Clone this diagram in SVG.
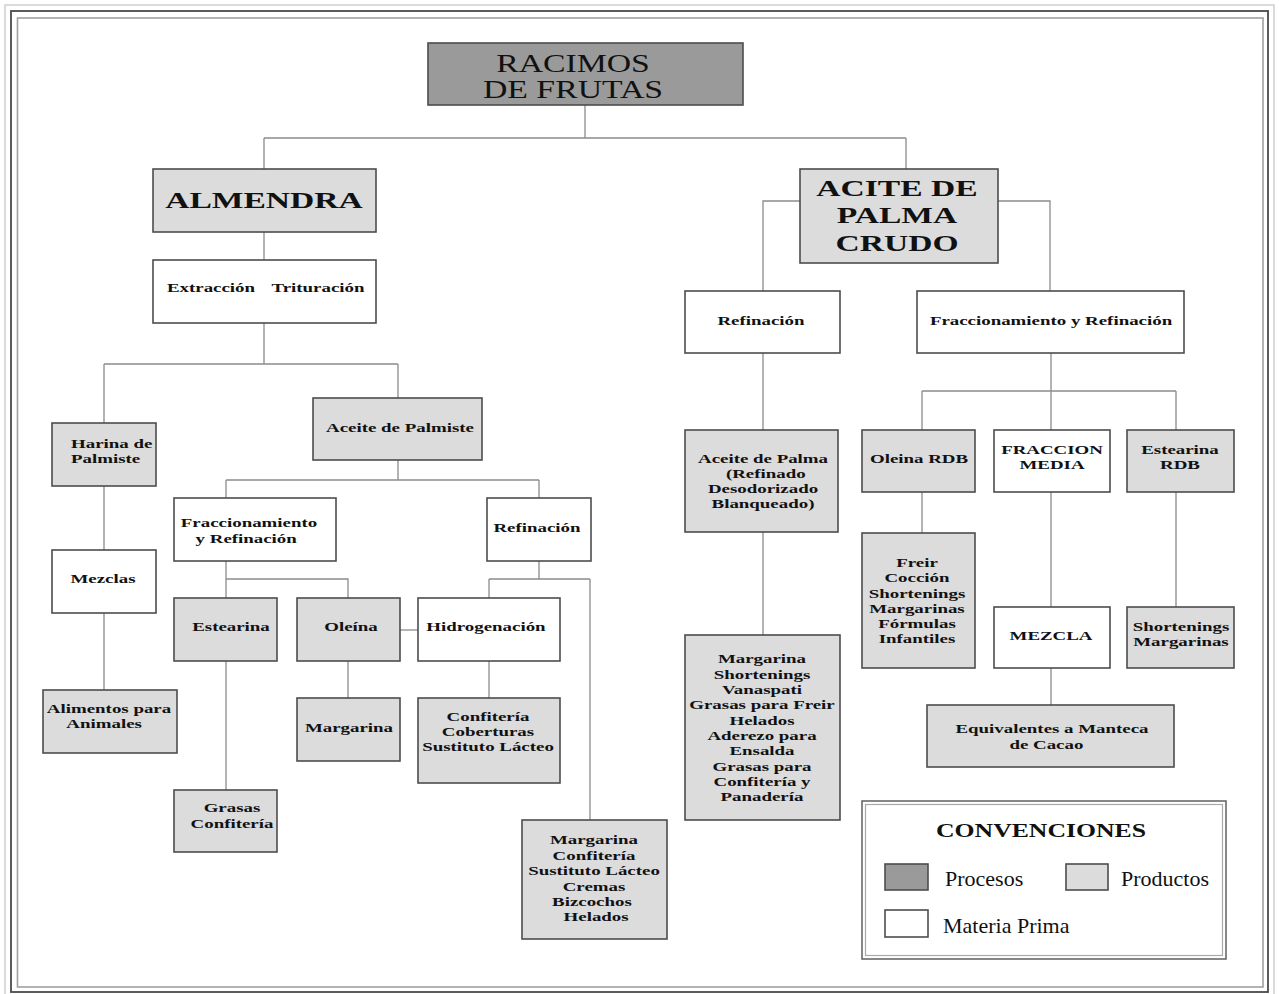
<svg xmlns="http://www.w3.org/2000/svg" width="1279" height="994" viewBox="0 0 1279 994">
  <style>
    .box { stroke: #4d4d4d; stroke-width: 1.6; }
    .mp { fill: #ffffff; }
    .pr { fill: #dcdcdc; }
    .pc { fill: #9a9a9a; }
    .t { font-family: "Liberation Serif", "Times New Roman", serif; font-weight: bold; font-size: 13.5px; fill: #111; text-anchor: middle; }
    .ts { text-anchor: start; }
    .big { font-size: 23px; }
    .title { font-weight: normal; font-size: 25px; }
    .lg { font-family: "Liberation Serif", "Times New Roman", serif; font-size: 22px; fill: #111; }
    .conn path { fill: none; stroke: #8c8c8c; stroke-width: 1.3; }
  </style>

  <!-- page frame -->
  <rect x="0" y="0" width="1279" height="994" fill="#ffffff"/>
  <rect x="5" y="5" width="1269" height="995" fill="none" stroke="#cfcfcf" stroke-width="1.5"/>
  <rect x="11" y="11" width="1257" height="981" fill="none" stroke="#4a4a4a" stroke-width="1.8"/>
  <rect x="17.5" y="18" width="1245.5" height="969" fill="none" stroke="#a0a0a0" stroke-width="1.6"/>

  <!-- connectors -->
  <g id="connectors" class="conn">
    <path d="M585,105 V138 M264,138 H906 M264,138 V169 M906,138 V169"/>
    <path d="M264,232 V260"/>
    <path d="M264,323 V364 M104,364 H398 M104,364 V423 M398,364 V398"/>
    <path d="M104,486 V550 M104,613 V690"/>
    <path d="M398,460 V480 M226,480 H539 M226,480 V498 M539,480 V498"/>
    <path d="M226,561 V579 H348 V598 M226,579 V598"/>
    <path d="M226,661 V790"/>
    <path d="M348,661 V698"/>
    <path d="M400,630 H418"/>
    <path d="M539,561 V579 M489,579 H590 M489,579 V598 M590,579 V820"/>
    <path d="M489,661 V698"/>
    <path d="M800,201 H763 V291 M998,201 H1050 V291"/>
    <path d="M763,353 V430 M763,532 V635"/>
    <path d="M1051,353 V391 M922,391 H1176 M922,391 V430 M1051,391 V430 M1176,391 V430"/>
    <path d="M922,492 V533 M1051,492 V607 M1176,492 V607 M1051,668 V705"/>
  </g>

  <!-- top level -->
  <g id="racimos">
    <rect class="box pc" x="428" y="43" width="315" height="62"/>
    <text class="t title" transform="matrix(1.35 0 0 1 573 0)"><tspan x="0" y="72">RACIMOS</tspan><tspan x="0" y="98">DE FRUTAS</tspan></text>
  </g>

  <!-- kernel branch -->
  <g id="almendra">
    <rect class="box pr" x="153" y="169" width="223" height="63"/>
    <text class="t big" transform="matrix(1.46 0 0 1 264 0)" y="208">ALMENDRA</text>
  </g>
  <g id="extraccion">
    <rect class="box mp" x="153" y="260" width="223" height="63"/>
    <text class="t" transform="matrix(1.4 0 0 1 211 0)" y="292">Extracción</text>
    <text class="t" transform="matrix(1.4 0 0 1 318 0)" y="292">Trituración</text>
  </g>
  <g id="harina">
    <rect class="box pr" x="52" y="423" width="104" height="63"/>
    <text class="t ts" transform="matrix(1.4 0 0 1 71 0)"><tspan x="0" y="448">Harina de</tspan><tspan x="0" y="463">Palmiste</tspan></text>
  </g>
  <g id="mezclas">
    <rect class="box mp" x="52" y="550" width="104" height="63"/>
    <text class="t" transform="matrix(1.4 0 0 1 103 0)" y="583">Mezclas</text>
  </g>
  <g id="alimentos">
    <rect class="box pr" x="43" y="690" width="134" height="63"/>
    <text class="t" transform="matrix(1.4 0 0 1 109 0)"><tspan x="0" y="713">Alimentos para</tspan><tspan x="-3.5" y="728">Animales</tspan></text>
  </g>
  <g id="aceite-palmiste">
    <rect class="box pr" x="313" y="398" width="169" height="62"/>
    <text class="t" transform="matrix(1.4 0 0 1 400 0)" y="432">Aceite de Palmiste</text>
  </g>
  <g id="fracc-izq">
    <rect class="box mp" x="174" y="498" width="162" height="63"/>
    <text class="t" transform="matrix(1.4 0 0 1 249 0)"><tspan x="0" y="527">Fraccionamiento</tspan><tspan x="-2" y="543">y Refinación</tspan></text>
  </g>
  <g id="refinacion-izq">
    <rect class="box mp" x="487" y="498" width="104" height="63"/>
    <text class="t" transform="matrix(1.4 0 0 1 537 0)" y="532">Refinación</text>
  </g>
  <g id="estearina">
    <rect class="box pr" x="174" y="598" width="103" height="63"/>
    <text class="t" transform="matrix(1.4 0 0 1 231 0)" y="631">Estearina</text>
  </g>
  <g id="oleina">
    <rect class="box pr" x="297" y="598" width="103" height="63"/>
    <text class="t" transform="matrix(1.4 0 0 1 351 0)" y="631">Oleína</text>
  </g>
  <g id="hidrogenacion">
    <rect class="box mp" x="418" y="598" width="142" height="63"/>
    <text class="t" transform="matrix(1.4 0 0 1 486 0)" y="631">Hidrogenación</text>
  </g>
  <g id="margarina-oleina">
    <rect class="box pr" x="297" y="698" width="103" height="63"/>
    <text class="t" transform="matrix(1.4 0 0 1 349 0)" y="732">Margarina</text>
  </g>
  <g id="confiteria-hidro">
    <rect class="box pr" x="418" y="698" width="142" height="85"/>
    <text class="t" transform="matrix(1.4 0 0 1 488 0)"><tspan x="0" y="721">Confitería</tspan><tspan x="0" y="736">Coberturas</tspan><tspan x="0" y="751">Sustituto Lácteo</tspan></text>
  </g>
  <g id="grasas-confiteria">
    <rect class="box pr" x="174" y="790" width="103" height="62"/>
    <text class="t" transform="matrix(1.4 0 0 1 232 0)"><tspan x="0" y="812">Grasas</tspan><tspan x="0" y="828">Confitería</tspan></text>
  </g>
  <g id="usos-refinacion">
    <rect class="box pr" x="522" y="820" width="145" height="119"/>
    <text class="t" transform="matrix(1.4 0 0 1 594 0)"><tspan x="0" y="844">Margarina</tspan><tspan x="0" y="860">Confitería</tspan><tspan x="0" y="875">Sustituto Lácteo</tspan><tspan x="0" y="891">Cremas</tspan><tspan x="-1.5" y="906">Bizcochos</tspan><tspan x="1.5" y="921">Helados</tspan></text>
  </g>

  <!-- crude palm oil branch -->
  <g id="aceite-crudo">
    <rect class="box pr" x="800" y="169" width="198" height="94"/>
    <text class="t big" transform="matrix(1.46 0 0 1 897 0)"><tspan x="0" y="196">ACITE DE</tspan><tspan x="0" y="223">PALMA</tspan><tspan x="0" y="251">CRUDO</tspan></text>
  </g>
  <g id="refinacion-der">
    <rect class="box mp" x="685" y="291" width="155" height="62"/>
    <text class="t" transform="matrix(1.4 0 0 1 761 0)" y="325">Refinación</text>
  </g>
  <g id="fracc-der">
    <rect class="box mp" x="917" y="291" width="267" height="62"/>
    <text class="t" transform="matrix(1.4 0 0 1 1051 0)" y="325">Fraccionamiento y Refinación</text>
  </g>
  <g id="aceite-rdb">
    <rect class="box pr" x="685" y="430" width="153" height="102"/>
    <text class="t" transform="matrix(1.4 0 0 1 763 0)"><tspan x="0" y="463">Aceite de Palma</tspan><tspan x="2" y="478">(Refinado</tspan><tspan x="0" y="493">Desodorizado</tspan><tspan x="0" y="508">Blanqueado)</tspan></text>
  </g>
  <g id="usos-palma">
    <rect class="box pr" x="685" y="635" width="155" height="185"/>
    <text class="t" transform="matrix(1.4 0 0 1 762 0)"><tspan x="0" y="663">Margarina</tspan><tspan x="0" y="679">Shortenings</tspan><tspan x="0" y="694">Vanaspati</tspan><tspan x="0" y="709">Grasas para Freir</tspan><tspan x="0" y="725">Helados</tspan><tspan x="0" y="740">Aderezo para</tspan><tspan x="0" y="755">Ensalda</tspan><tspan x="0" y="771">Grasas para</tspan><tspan x="0" y="786">Confitería y</tspan><tspan x="0" y="801">Panadería</tspan></text>
  </g>
  <g id="oleina-rdb">
    <rect class="box pr" x="862" y="430" width="113" height="62"/>
    <text class="t" transform="matrix(1.4 0 0 1 919 0)" y="463">Oleina RDB</text>
  </g>
  <g id="fraccion-media">
    <rect class="box mp" x="994" y="430" width="116" height="62"/>
    <text class="t" transform="matrix(1.4 0 0 1 1052 0)"><tspan x="0" y="454">FRACCION</tspan><tspan x="0" y="469">MEDIA</tspan></text>
  </g>
  <g id="estearina-rdb">
    <rect class="box pr" x="1127" y="430" width="107" height="62"/>
    <text class="t" transform="matrix(1.4 0 0 1 1180 0)"><tspan x="0" y="454">Estearina</tspan><tspan x="0" y="469">RDB</tspan></text>
  </g>
  <g id="usos-oleina">
    <rect class="box pr" x="862" y="533" width="113" height="135"/>
    <text class="t" transform="matrix(1.4 0 0 1 917 0)"><tspan x="0" y="567">Freir</tspan><tspan x="0" y="582">Cocción</tspan><tspan x="0" y="598">Shortenings</tspan><tspan x="0" y="613">Margarinas</tspan><tspan x="0" y="628">Fórmulas</tspan><tspan x="0" y="643">Infantiles</tspan></text>
  </g>
  <g id="mezcla">
    <rect class="box mp" x="994" y="607" width="116" height="61"/>
    <text class="t" transform="matrix(1.4 0 0 1 1051 0)" y="640">MEZCLA</text>
  </g>
  <g id="usos-estearina">
    <rect class="box pr" x="1127" y="607" width="107" height="61"/>
    <text class="t" transform="matrix(1.4 0 0 1 1181 0)"><tspan x="0" y="631">Shortenings</tspan><tspan x="0" y="646">Margarinas</tspan></text>
  </g>
  <g id="equivalentes">
    <rect class="box pr" x="927" y="705" width="247" height="62"/>
    <text class="t" transform="matrix(1.4 0 0 1 1052 0)"><tspan x="0" y="733">Equivalentes a Manteca</tspan><tspan x="-4" y="749">de Cacao</tspan></text>
  </g>

  <!-- legend -->
  <g id="convenciones">
    <rect x="862" y="801" width="364" height="158" fill="#ffffff" stroke="#6a6a6a" stroke-width="1.6"/>
    <rect x="865.5" y="804.5" width="357" height="151" fill="none" stroke="#a8a8a8" stroke-width="1.2"/>
    <text class="t" style="font-size:18px" transform="matrix(1.43 0 0 1 1041 0)" y="837">CONVENCIONES</text>
    <rect class="box pc" x="885" y="864" width="43" height="26"/>
    <text class="lg" x="945" y="886">Procesos</text>
    <rect class="box pr" x="1066" y="864" width="42" height="26"/>
    <text class="lg" x="1121" y="886">Productos</text>
    <rect class="box mp" x="885" y="910" width="43" height="27"/>
    <text class="lg" x="943" y="933">Materia Prima</text>
  </g>
</svg>
